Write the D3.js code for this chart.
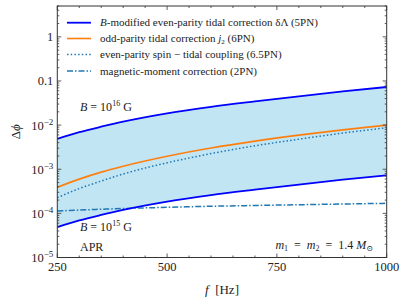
<!DOCTYPE html>
<html><head><meta charset="utf-8">
<script src="https://cdn.jsdelivr.net/npm/d3@7"></script>
<style>
body{margin:0;background:#fff;}
svg text{font-family:"Liberation Serif","DejaVu Serif",serif;fill:#222;}
</style></head>
<body><svg id="c" width="407" height="305"></svg>
<script>
const freqs = [250, 300, 350, 400, 500, 600, 700, 800, 900, 1000];
const upperB = [4.9e-3, 6.9e-3, 9.2e-3, 1.2e-2, 1.85e-2, 2.6e-2, 3.45e-2, 4.5e-2, 5.8e-2, 7.3e-2];
const lowerB = [4.9e-5, 6.9e-5, 9.2e-5, 1.2e-4, 1.85e-4, 2.6e-4, 3.45e-4, 4.5e-4, 5.8e-4, 7.3e-4];
const oddParity = [3.9e-4, 5.97e-4, 8.6e-4, 1.17e-3, 1.97e-3, 3.03e-3, 4.34e-3, 5.93e-3, 7.8e-3, 1.0e-2];
const spinTidal = [2.26e-4, 3.65e-4, 5.4e-4, 7.8e-4, 1.40e-3, 2.26e-3, 3.4e-3, 4.8e-3, 6.6e-3, 8.7e-3];
const magMoment = [1.13e-4, 1.19e-4, 1.24e-4, 1.29e-4, 1.37e-4, 1.45e-4, 1.51e-4, 1.57e-4, 1.63e-4, 1.69e-4];
const xTicks = [250, 500, 750, 1000];
const yTickExps = [-5, -4, -3, -2, -1, 0];

const svg = d3.select("#c");
const L = 57.3, R = 386.7, T = 6, B = 257.5;
const x = d3.scaleLinear().domain([250, 1000]).range([L, R]);
const y = d3.scaleLog().domain([1e-5, 5]).range([B, T]);

const g = svg.append("g");
svg.append("defs").append("clipPath").attr("id","pc").append("rect")
  .attr("x",L).attr("y",T).attr("width",R-L).attr("height",B-T);
const plot = g.append("g").attr("clip-path","url(#pc)");

const idx = d3.range(freqs.length);
const area = d3.area().x(i=>x(freqs[i])).y0(i=>y(lowerB[i])).y1(i=>y(upperB[i])).curve(d3.curveMonotoneX);
plot.append("path").attr("d", area(idx)).attr("fill","#c2e5f4");

function line(arr){ return d3.line().x(i=>x(freqs[i])).y(i=>y(arr[i])).curve(d3.curveMonotoneX)(idx); }
plot.append("path").attr("d", line(magMoment)).attr("fill","none").attr("stroke","#1f77b4").attr("stroke-width",1.5).attr("stroke-dasharray","6,2,1.5,2");
plot.append("path").attr("d", line(spinTidal)).attr("fill","none").attr("stroke","#1f77b4").attr("stroke-width",1.5).attr("stroke-dasharray","1.5,2.2");
plot.append("path").attr("d", line(oddParity)).attr("fill","none").attr("stroke","#ff7f0e").attr("stroke-width",1.6);
plot.append("path").attr("d", line(upperB)).attr("fill","none").attr("stroke","#0000ff").attr("stroke-width",1.8);
plot.append("path").attr("d", line(lowerB)).attr("fill","none").attr("stroke","#0000ff").attr("stroke-width",1.8);

// ticks (inward, all sides)
const tk = svg.append("g").attr("stroke","#333").attr("stroke-width",0.8);
const xMinor = d3.range(250, 1001, 50);
xMinor.forEach(v=>{
  const maj = xTicks.includes(v);
  const len = maj ? 4 : 2;
  tk.append("line").attr("x1",x(v)).attr("x2",x(v)).attr("y1",B).attr("y2",B-len);
  tk.append("line").attr("x1",x(v)).attr("x2",x(v)).attr("y1",T).attr("y2",T+len);
});
for (let e=-5; e<=0; e++){
  for (let m=1; m<=9; m++){
    const v = m*Math.pow(10,e);
    if (v>5) continue;
    const len = m===1 ? 4 : 2;
    tk.append("line").attr("x1",L).attr("x2",L+len).attr("y1",y(v)).attr("y2",y(v));
    tk.append("line").attr("x1",R).attr("x2",R-len).attr("y1",y(v)).attr("y2",y(v));
  }
}
svg.append("rect").attr("x",L).attr("y",T).attr("width",R-L).attr("height",B-T)
  .attr("fill","none").attr("stroke","#333").attr("stroke-width",1);

// x tick labels
xTicks.forEach(v=>{
  svg.append("text").attr("x",x(v)).attr("y",B+13).attr("text-anchor","middle")
    .attr("font-size",12.5).text(v);
});
// y tick labels
yTickExps.forEach(e=>{
  const t = svg.append("text").attr("x",L-4).attr("y",y(Math.pow(10,e))+4.5)
    .attr("text-anchor","end").attr("font-size",12.5);
  if (e===0) t.text("1");
  else if (e===-1) t.text("0.1");
  else { t.append("tspan").text("10"); t.append("tspan").attr("dy",-5).attr("font-size",9).text("\u2212"+(-e)); }
});

// axis labels
svg.append("text").attr("x",(L+R)/2).attr("y",294).attr("text-anchor","middle").attr("font-size",13)
  .html('<tspan font-style="italic">f</tspan>\u00a0\u00a0[Hz]');
svg.append("text").attr("transform",`translate(20,${(T+B)/2}) rotate(-90)`).attr("text-anchor","middle")
  .attr("font-size",13).html('\u0394<tspan font-style="italic">\u03d5</tspan>');

// legend
const leg = [
  {c:"#0000ff", d:null, w:1.8, html:'<tspan font-style="italic">B</tspan>-modified even-parity tidal correction \u03b4\u039b (5PN)'},
  {c:"#ff7f0e", d:null, w:1.6, html:'odd-parity tidal correction <tspan font-style="italic">j</tspan><tspan font-size="7" dy="2">2</tspan><tspan dy="-2"> (6PN)</tspan>'},
  {c:"#1f77b4", d:"1.5,2.2", w:1.5, html:'even-parity spin \u2212 tidal coupling (6.5PN)'},
  {c:"#1f77b4", d:"6,2,1.5,2", w:1.5, html:'magnetic-moment correction (2PN)'}
];
const legY = [22.7, 38.5, 54.5, 71];
leg.forEach((l,i)=>{
  svg.append("line").attr("x1",67).attr("x2",91).attr("y1",legY[i]).attr("y2",legY[i])
    .attr("stroke",l.c).attr("stroke-width",l.w).attr("stroke-dasharray",l.d);
  svg.append("text").attr("x",100).attr("y",legY[i]+3.5).attr("font-size",11).html(l.html);
});

// annotations
svg.append("text").attr("x",80).attr("y",111).attr("font-size",12)
  .html('<tspan font-style="italic">B</tspan> = 10<tspan font-size="8" dy="-5">16</tspan><tspan dy="5"> G</tspan>');
svg.append("text").attr("x",80).attr("y",231).attr("font-size",12)
  .html('<tspan font-style="italic">B</tspan> = 10<tspan font-size="8" dy="-5">15</tspan><tspan dy="5"> G</tspan>');
svg.append("text").attr("x",80).attr("y",251).attr("font-size",12).text("APR");
svg.append("text").attr("x",373).attr("y",249).attr("font-size",12).attr("text-anchor","end")
  .html('<tspan font-style="italic">m</tspan><tspan font-size="8" dy="2">1</tspan><tspan dy="-2">\u00a0\u00a0=\u00a0\u00a0</tspan><tspan font-style="italic">m</tspan><tspan font-size="8" dy="2">2</tspan><tspan dy="-2">\u00a0\u00a0=\u00a0\u00a01.4\u00a0</tspan><tspan font-style="italic">M</tspan><tspan font-size="8" dy="2">\u2299</tspan>');
</script></body></html>
